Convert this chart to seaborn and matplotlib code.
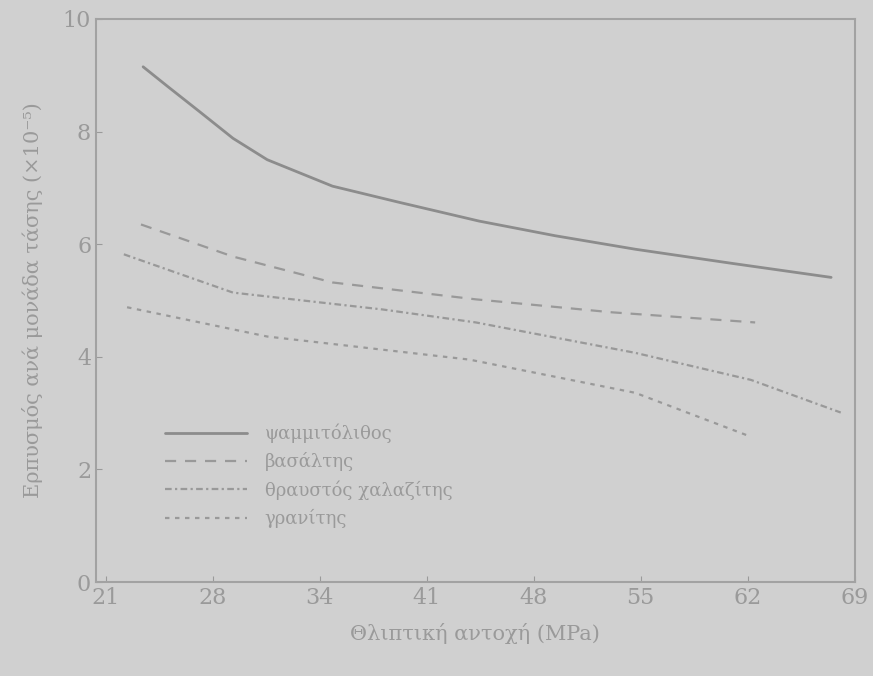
import matplotlib
matplotlib.use("Agg")
import matplotlib.pyplot as plt
import seaborn as sns

# Θέσεις στον άξονα x (ισαπέχουσες υποδιαιρέσεις) και ετικέτες σε MPa
tick_pos = [0, 1, 2, 3, 4, 5, 6, 7]
tick_labels = ["21", "28", "34", "41", "48", "55", "62", "69"]

# Καμπύλες ανά τύπο αδρανών (τιμές διαβασμένες από το σχήμα)
x_1 = [0.35, 0.58, 0.88, 1.19, 1.51, 2.12, 2.75, 3.49, 4.20, 4.95, 5.85, 6.78]
y_1 = [9.15, 8.80, 8.35, 7.88, 7.50, 7.03, 6.74, 6.41, 6.15, 5.91, 5.66, 5.41]

x_2 = [0.33, 1.19, 2.12, 3.46, 4.73, 6.07]
y_2 = [6.35, 5.78, 5.32, 5.02, 4.79, 4.61]

x_3 = [0.17, 1.19, 2.59, 3.46, 4.95, 6.03, 6.87]
y_3 = [5.82, 5.14, 4.84, 4.61, 4.07, 3.59, 3.01]

x_4 = [0.20, 1.51, 3.40, 4.95, 6.03]
y_4 = [4.88, 4.36, 3.95, 3.36, 2.58]

labels = ["ψαμμιτόλιθος", "βασάλτης", "θραυστός χαλαζίτης", "γρανίτης"]

bg = "#d0d0d0"
line_col = "#8c8c8c"
text_col = "#9a9a9a"

sns.set_style("ticks")
plt.rcParams["font.family"] = ["DejaVu Serif"]

fig, ax = plt.subplots(figsize=(8.73, 6.76), dpi=100)
fig.patch.set_facecolor(bg)
ax.set_facecolor(bg)
fig.subplots_adjust(left=0.110, right=0.979, top=0.972, bottom=0.139)

sns.lineplot(x=x_1, y=y_1, ax=ax, color=line_col, lw=2.0, linestyle="-", label=labels[0])
sns.lineplot(x=x_2, y=y_2, ax=ax, color="#999999", lw=1.6, linestyle=(0, (5, 4)), label=labels[1])
sns.lineplot(x=x_3, y=y_3, ax=ax, color="#999999", lw=1.6, linestyle=(0, (3, 1.5, 1, 1.5)), label=labels[2])
sns.lineplot(x=x_4, y=y_4, ax=ax, color="#999999", lw=1.6, linestyle=(0, (2, 2.5)), label=labels[3])

ax.set_xlim(-0.09, 7.0)
ax.set_ylim(0, 10)
ax.set_xticks(tick_pos)
ax.set_xticklabels(tick_labels)
ax.set_yticks([0, 2, 4, 6, 8, 10])
ax.tick_params(direction="in", colors=text_col, labelsize=16, length=4)

for s in ax.spines.values():
    s.set_visible(True)
    s.set_color("#a2a2a2")
    s.set_linewidth(1.5)

ax.set_xlabel("Θλιπτική αντοχή (MPa)", fontsize=15, color=text_col, labelpad=10)
ax.set_ylabel("Ερπυσμός ανά μονάδα τάσης (×10⁻⁵)", fontsize=15, color=text_col, labelpad=14)

leg = ax.legend(loc="upper left", bbox_to_anchor=(0.07, 0.31), frameon=False,
                fontsize=13, handlelength=4.5, labelspacing=0.5, handletextpad=1.0)
for t in leg.get_texts():
    t.set_color(text_col)

plt.savefig("out.png", dpi=100, facecolor=bg)
plt.close()
